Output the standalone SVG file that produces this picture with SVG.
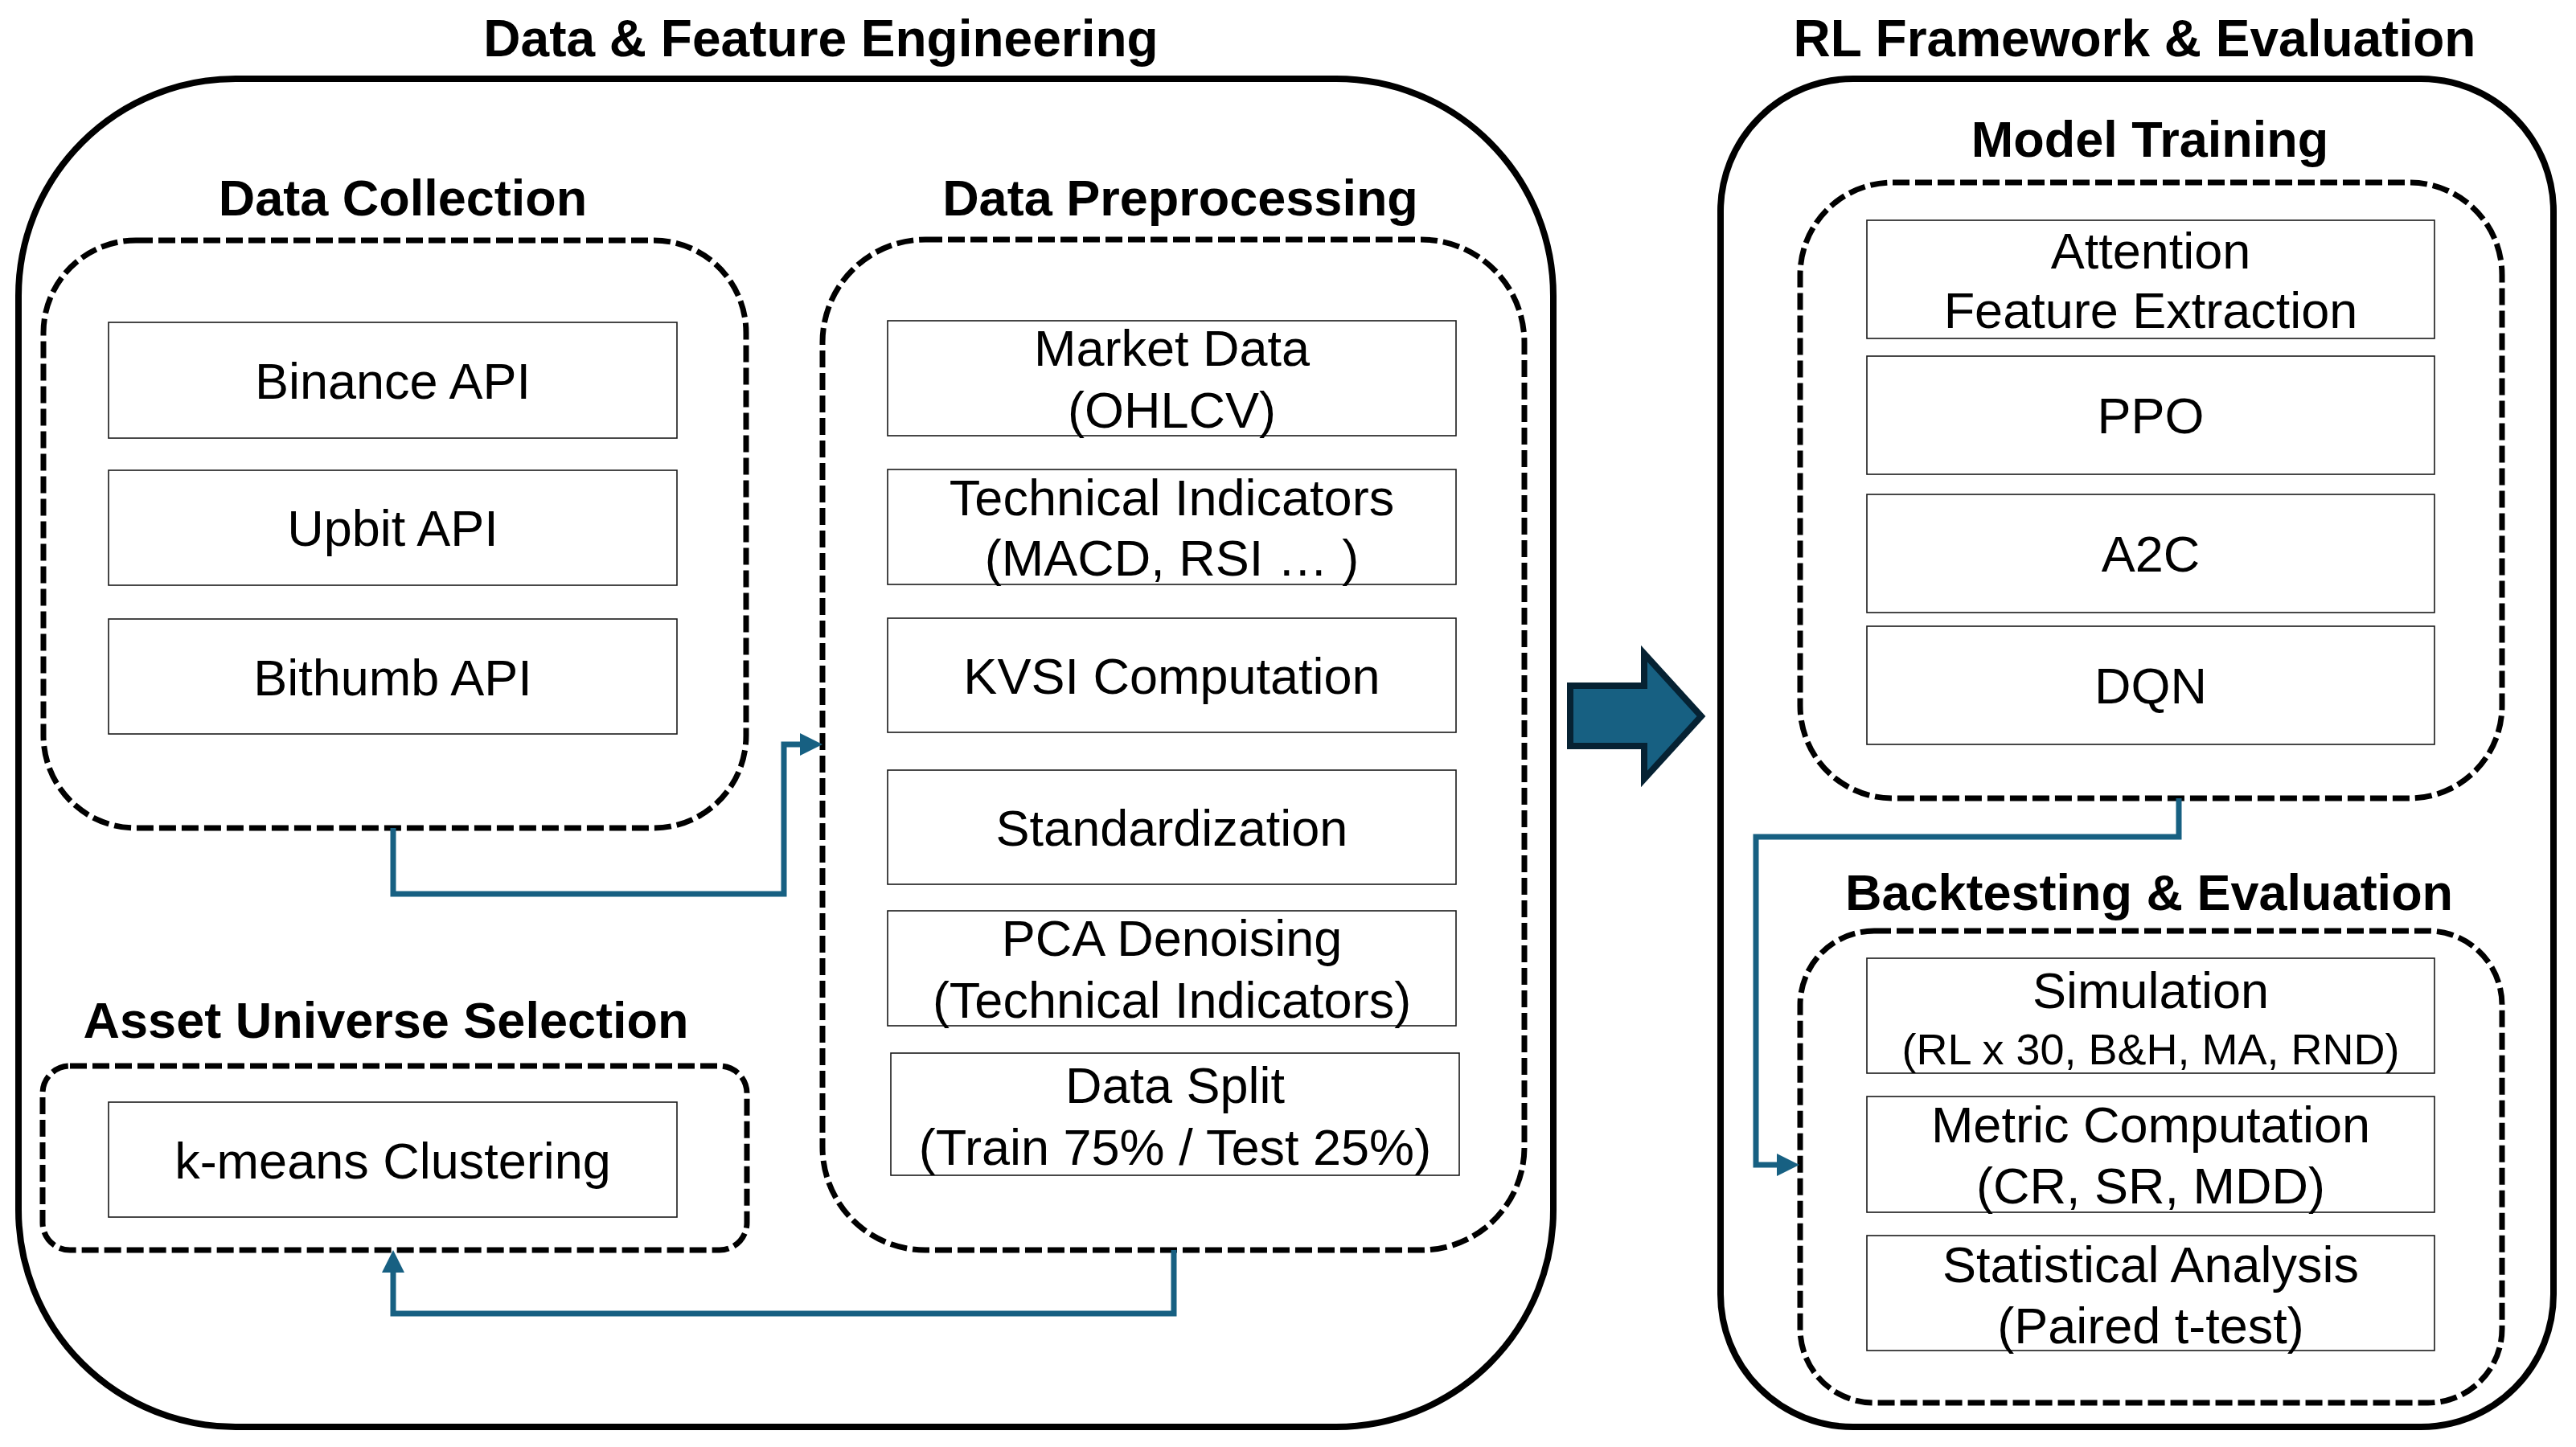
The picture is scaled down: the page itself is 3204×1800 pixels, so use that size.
<svg xmlns="http://www.w3.org/2000/svg" width="3204" height="1800" viewBox="0 0 3204 1800">
<style>
  text { font-family: "Liberation Sans", Arial, sans-serif; fill: #000; text-anchor: middle; }
  .title { font-size: 64px; font-weight: bold; }
  .sec { font-size: 63px; font-weight: bold; }
  .lbl { font-size: 63px; }
  .sm { font-size: 54px; }
  .outer { fill: none; stroke: #000; stroke-width: 8; }
  .dash { fill: none; stroke: #000; stroke-width: 7; stroke-dasharray: 21 7; }
  .node { fill: #fff; stroke: #1a1a1a; stroke-width: 1.6; }
  .conn { fill: none; stroke: #176082; stroke-width: 7; stroke-linejoin: miter; }
</style>
<defs>
  <marker id="ah" markerUnits="userSpaceOnUse" markerWidth="28" markerHeight="28" refX="0" refY="14" orient="auto">
    <path d="M0,0 L28,14 L0,28 z" fill="#176082"/>
  </marker>
</defs>
<rect width="3204" height="1800" fill="#fff"/>

<g id="data-feature-engineering">
  <rect class="outer" x="23" y="98" width="1909" height="1677" rx="270" ry="270"/>
  <text class="title" x="1021" y="70">Data &amp; Feature Engineering</text>
</g>

<g id="rl-framework">
  <rect class="outer" x="2140" y="98" width="1036" height="1677" rx="165" ry="165"/>
  <text class="title" x="2655" y="70">RL Framework &amp; Evaluation</text>
</g>

<g id="data-collection">
  <rect class="dash" x="54" y="299" width="874" height="731" rx="115" ry="115"/>
  <text class="sec" x="501" y="268">Data Collection</text>
</g>
<g id="binance">
  <rect class="node" x="135" y="401" width="707" height="144"/>
  <text class="lbl" x="488.5" y="496">Binance API</text>
</g>
<g id="upbit">
  <rect class="node" x="135" y="585" width="707" height="143"/>
  <text class="lbl" x="488.5" y="679">Upbit API</text>
</g>
<g id="bithumb">
  <rect class="node" x="135" y="770" width="707" height="143"/>
  <text class="lbl" x="488.5" y="865">Bithumb API</text>
</g>

<g id="asset-universe">
  <rect class="dash" x="53" y="1326" width="876" height="229" rx="34" ry="34"/>
  <text class="sec" x="480" y="1291">Asset Universe Selection</text>
</g>
<g id="kmeans">
  <rect class="node" x="135" y="1371" width="707" height="143"/>
  <text class="lbl" x="488.5" y="1466">k-means Clustering</text>
</g>

<g id="data-preprocessing">
  <rect class="dash" x="1023" y="298" width="873" height="1257" rx="128" ry="128"/>
  <text class="sec" x="1468" y="268">Data Preprocessing</text>
</g>
<g id="market-data">
  <rect class="node" x="1104" y="399" width="707" height="143"/>
  <text class="lbl" x="1457.5" y="455">Market Data</text>
  <text class="lbl" x="1457.5" y="532">(OHLCV)</text>
</g>
<g id="technical-indicators">
  <rect class="node" x="1104" y="584" width="707" height="143"/>
  <text class="lbl" x="1457.5" y="641">Technical Indicators</text>
  <text class="lbl" x="1457.5" y="716">(MACD, RSI … )</text>
</g>
<g id="kvsi">
  <rect class="node" x="1104" y="769" width="707" height="142"/>
  <text class="lbl" x="1457.5" y="863">KVSI Computation</text>
</g>
<g id="standardization">
  <rect class="node" x="1104" y="958" width="707" height="142"/>
  <text class="lbl" x="1457.5" y="1052">Standardization</text>
</g>
<g id="pca">
  <rect class="node" x="1104" y="1133" width="707" height="143"/>
  <text class="lbl" x="1457.5" y="1189">PCA Denoising</text>
  <text class="lbl" x="1457.5" y="1266">(Technical Indicators)</text>
</g>
<g id="data-split">
  <rect class="node" x="1108" y="1310" width="707" height="152"/>
  <text class="lbl" x="1461.5" y="1372">Data Split</text>
  <text class="lbl" x="1461.5" y="1449">(Train 75% / Test 25%)</text>
</g>

<g id="model-training">
  <rect class="dash" x="2239" y="227" width="873" height="766" rx="115" ry="115"/>
  <text class="sec" x="2674" y="195">Model Training</text>
</g>
<g id="attention">
  <rect class="node" x="2322" y="274" width="706" height="147"/>
  <text class="lbl" x="2675" y="334">Attention</text>
  <text class="lbl" x="2675" y="408">Feature Extraction</text>
</g>
<g id="ppo">
  <rect class="node" x="2322" y="443" width="706" height="147"/>
  <text class="lbl" x="2675" y="539">PPO</text>
</g>
<g id="a2c">
  <rect class="node" x="2322" y="615" width="706" height="147"/>
  <text class="lbl" x="2675" y="711">A2C</text>
</g>
<g id="dqn">
  <rect class="node" x="2322" y="779" width="706" height="147"/>
  <text class="lbl" x="2675" y="875">DQN</text>
</g>

<g id="backtesting">
  <rect class="dash" x="2239" y="1158" width="873" height="587" rx="92" ry="92"/>
  <text class="sec" x="2673" y="1132">Backtesting &amp; Evaluation</text>
</g>
<g id="simulation">
  <rect class="node" x="2322" y="1192" width="706" height="143"/>
  <text class="lbl" x="2675" y="1254">Simulation</text>
  <text class="sm" x="2675" y="1324">(RL x 30, B&amp;H, MA, RND)</text>
</g>
<g id="metric">
  <rect class="node" x="2322" y="1364" width="706" height="144"/>
  <text class="lbl" x="2675" y="1421">Metric Computation</text>
  <text class="lbl" x="2675" y="1497">(CR, SR, MDD)</text>
</g>
<g id="statistical">
  <rect class="node" x="2322" y="1537" width="706" height="143"/>
  <text class="lbl" x="2675" y="1595">Statistical Analysis</text>
  <text class="lbl" x="2675" y="1671">(Paired t-test)</text>
</g>

<g id="connectors">
  <path class="conn" d="M489,1030 V1112 H975 V926 H995" marker-end="url(#ah)"/>
  <path class="conn" d="M1460,1555 V1634 H489 V1583" marker-end="url(#ah)"/>
  <path class="conn" d="M2710,993 V1041 H2184 V1449 H2210" marker-end="url(#ah)"/>
  <polygon points="1953,853 2045,853 2045,813 2116,891 2045,969 2045,928 1953,928" fill="#176082" stroke="#062233" stroke-width="8" stroke-linejoin="miter"/>
</g>
</svg>
